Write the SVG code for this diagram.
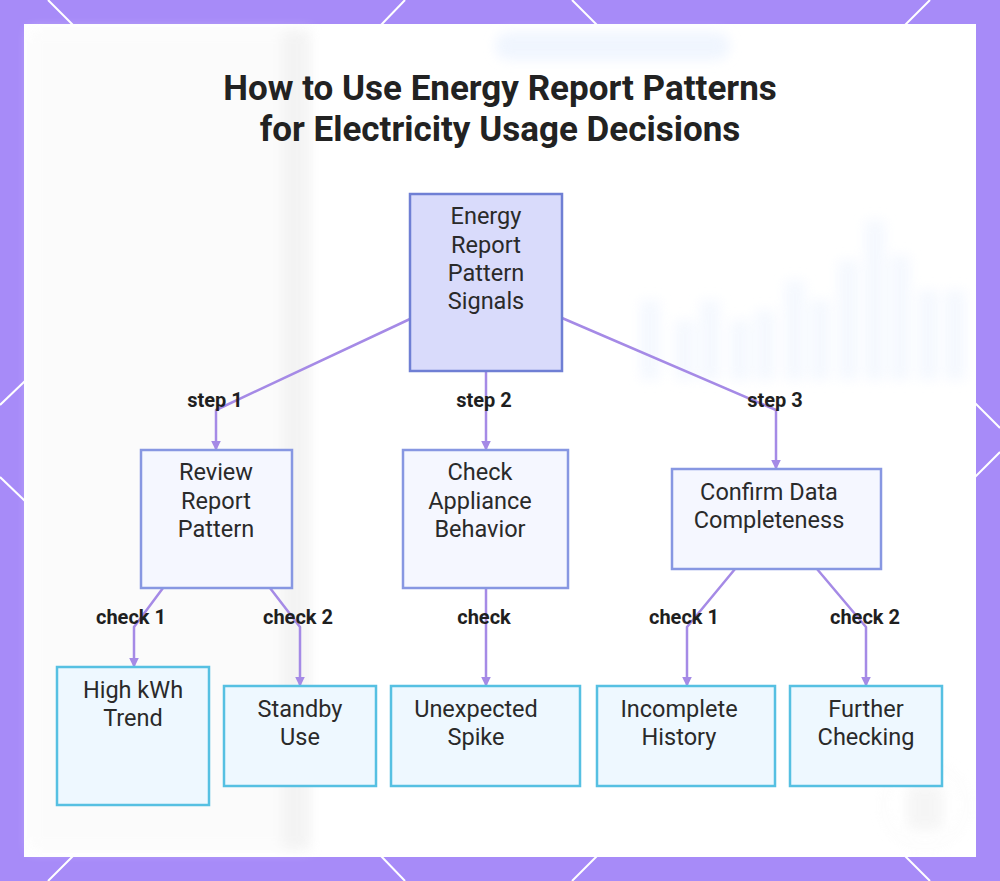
<svg xmlns="http://www.w3.org/2000/svg" width="1000" height="881" viewBox="0 0 1000 881">
<defs>
<style>
.deco{stroke:#ffffff;stroke-width:2;fill:none}
.edge{stroke:#a58ae6;stroke-width:2.5;fill:none;stroke-linejoin:round}
.lbl{font-family:Roboto,"Liberation Sans",sans-serif;font-weight:700;font-size:20px;fill:#1f1f1f;text-anchor:middle}
.ntxt{font-family:Roboto,"Liberation Sans",sans-serif;font-size:23.5px;fill:#2a2a2a;text-anchor:middle}
.title{font-family:Roboto,"Liberation Sans",sans-serif;font-weight:700;font-size:35px;fill:#222222;text-anchor:middle}
.root{fill:#d9dbfb;stroke:#6f7fd4;stroke-width:2.5}
.mid{fill:#f5f7ff;stroke:#8797e2;stroke-width:2.5}
.leaf{fill:#eef8ff;stroke:#56c0e2;stroke-width:2.5}
</style>
<filter id="blur" x="-20%" y="-20%" width="140%" height="140%"><feGaussianBlur stdDeviation="6"/></filter>
<marker id="arr" viewBox="0 0 6 6" refX="5" refY="3" markerWidth="4" markerHeight="4" orient="auto"><path d="M0,0 L6,3 L0,6 z" fill="#a58ae6"/></marker>
</defs>
<rect x="0" y="0" width="1000" height="881" fill="#a78bf8"/>
<g class="deco">
<line x1="48" y1="0" x2="73" y2="25"/><line x1="405" y1="0" x2="381" y2="25"/>
<line x1="572" y1="0" x2="597" y2="25"/><line x1="930" y1="0" x2="905" y2="25"/>
<line x1="73" y1="856" x2="48" y2="881"/><line x1="381" y1="856" x2="405" y2="881"/>
<line x1="597" y1="856" x2="572" y2="881"/><line x1="905" y1="856" x2="930" y2="881"/>
<line x1="25" y1="381" x2="0" y2="405"/><line x1="25" y1="501" x2="0" y2="477"/>
<line x1="975" y1="403" x2="1000" y2="428"/><line x1="975" y1="477" x2="1000" y2="452"/>
</g>
<rect x="24" y="24" width="952" height="833" fill="#ffffff"/>
<g filter="url(#blur)" opacity="0.7">
<rect x="282" y="30" width="28" height="820" fill="#efefef"/>
<rect x="30" y="30" width="252" height="820" fill="#fafafa"/>
<rect x="495" y="32" width="235" height="28" rx="14" fill="#eaf2fe"/>
<g fill="#f1f6fe">
<rect x="640" y="300" width="20" height="80"/><rect x="675" y="320" width="20" height="60"/>
<rect x="700" y="300" width="20" height="80"/><rect x="730" y="320" width="20" height="60"/>
<rect x="755" y="310" width="20" height="70"/><rect x="785" y="280" width="20" height="100"/>
<rect x="810" y="300" width="20" height="80"/><rect x="838" y="260" width="20" height="120"/>
<rect x="865" y="220" width="20" height="160"/><rect x="890" y="255" width="20" height="125"/>
<rect x="918" y="290" width="20" height="90"/><rect x="945" y="290" width="20" height="90"/>
</g>
<circle cx="925" cy="805" r="42" fill="none" stroke="#f0f0f0" stroke-width="2"/>
<rect x="907" y="785" width="36" height="45" rx="6" fill="#f2f2f2"/>
</g>
<text class="title" x="500" y="100">How to Use Energy Report Patterns</text>
<text class="title" x="500" y="141">for Electricity Usage Decisions</text>
<g id="connectors">
<polyline class="edge" points="410,319 216,410 216,449" marker-end="url(#arr)"/>
<polyline class="edge" points="486,371 486,449" marker-end="url(#arr)"/>
<polyline class="edge" points="562,318 776,410 776,468" marker-end="url(#arr)"/>
<polyline class="edge" points="163,588 134,627 134,666" marker-end="url(#arr)"/>
<polyline class="edge" points="270,588 300,627 300,685" marker-end="url(#arr)"/>
<polyline class="edge" points="486,588 486,685" marker-end="url(#arr)"/>
<polyline class="edge" points="735,569 687,627 687,685" marker-end="url(#arr)"/>
<polyline class="edge" points="817,569 866,627 866,685" marker-end="url(#arr)"/>
<text class="lbl" x="215" y="407">step 1</text>
<text class="lbl" x="484" y="407">step 2</text>
<text class="lbl" x="775" y="407">step 3</text>
<text class="lbl" x="131" y="624">check 1</text>
<text class="lbl" x="298" y="624">check 2</text>
<text class="lbl" x="484" y="624">check</text>
<text class="lbl" x="684" y="624">check 1</text>
<text class="lbl" x="865" y="624">check 2</text>
</g>
<g id="n-root"><rect class="root" x="410" y="194" width="152" height="177"/>
<text class="ntxt" x="486" y="224">Energy</text><text class="ntxt" x="486" y="253">Report</text><text class="ntxt" x="486" y="281">Pattern</text><text class="ntxt" x="486" y="309">Signals</text></g>
<g id="n-review"><rect class="mid" x="141" y="450" width="151" height="138"/>
<text class="ntxt" x="216" y="480">Review</text><text class="ntxt" x="216" y="509">Report</text><text class="ntxt" x="216" y="537">Pattern</text></g>
<g id="n-appliance"><rect class="mid" x="403" y="450" width="165" height="138"/>
<text class="ntxt" x="480" y="480">Check</text><text class="ntxt" x="480" y="509">Appliance</text><text class="ntxt" x="480" y="537">Behavior</text></g>
<g id="n-confirm"><rect class="mid" x="672" y="469" width="209" height="100"/>
<text class="ntxt" x="769" y="500">Confirm Data</text><text class="ntxt" x="769" y="528">Completeness</text></g>
<g id="n-high"><rect class="leaf" x="57" y="667" width="152" height="138"/>
<text class="ntxt" x="133" y="698">High kWh</text><text class="ntxt" x="133" y="726">Trend</text></g>
<g id="n-standby"><rect class="leaf" x="224" y="686" width="152" height="100"/>
<text class="ntxt" x="300" y="717">Standby</text><text class="ntxt" x="300" y="745">Use</text></g>
<g id="n-spike"><rect class="leaf" x="391" y="686" width="189" height="100"/>
<text class="ntxt" x="476" y="717">Unexpected</text><text class="ntxt" x="476" y="745">Spike</text></g>
<g id="n-incomplete"><rect class="leaf" x="597" y="686" width="178" height="100"/>
<text class="ntxt" x="679" y="717">Incomplete</text><text class="ntxt" x="679" y="745">History</text></g>
<g id="n-further"><rect class="leaf" x="790" y="686" width="152" height="100"/>
<text class="ntxt" x="866" y="717">Further</text><text class="ntxt" x="866" y="745">Checking</text></g>
</svg>
